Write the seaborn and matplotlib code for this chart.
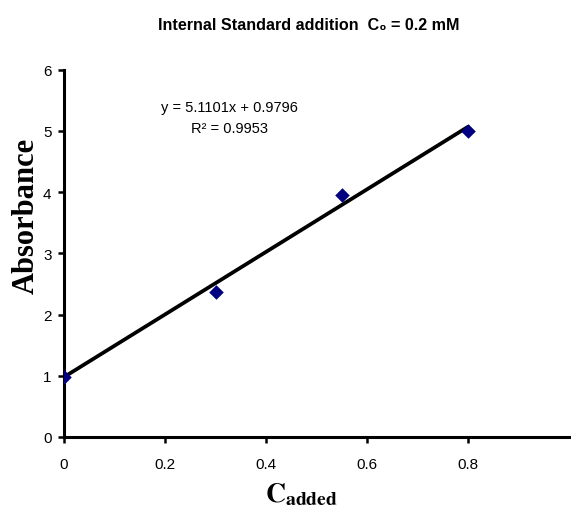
import matplotlib
matplotlib.use("Agg")
import matplotlib.pyplot as plt
from matplotlib import font_manager
import seaborn as sns
import pandas as pd
import numpy as np

# data
c_added = [0.0, 0.30, 0.55, 0.80]
absorbance = [0.98, 2.37, 3.95, 5.00]
fit_slope = 5.1101
fit_intercept = 0.9796
r_squared = 0.9953
x_ticks = [0, 0.2, 0.4, 0.6, 0.8]
x_tick_labels = ["0", "0.2", "0.4", "0.6", "0.8"]
y_ticks = [0, 1, 2, 3, 4, 5, 6]

sns.set_style("ticks")
plt.rcParams['font.family'] = ['Liberation Sans', 'DejaVu Sans']
plt.rcParams['mathtext.fontset'] = 'stix'
for k in ["text.color", "axes.labelcolor", "xtick.color", "ytick.color",
          "axes.edgecolor"]:
    plt.rcParams[k] = "black"

installed = {f.name for f in font_manager.fontManager.ttflist}
if "Liberation Sans Narrow" in installed:
    title_family = ['Liberation Sans Narrow', 'DejaVu Sans']
    title_size = 14
else:
    title_family = ['Liberation Sans', 'DejaVu Sans']
    title_size = 11.6

df = pd.DataFrame({"C": c_added, "A": absorbance})
xl = np.array([min(c_added), max(c_added)])
df_fit = pd.DataFrame({"C": xl, "A": fit_slope * xl + fit_intercept})

fig = plt.figure(figsize=(5.71, 5.10), dpi=100)
ax = fig.add_axes([64/571, 72/510, 505/571, 367.3/510])

sns.lineplot(data=df_fit, x="C", y="A", ax=ax, color="black", linewidth=2.7)
sns.scatterplot(data=df, x="C", y="A", ax=ax, marker="D", s=55,
                color="#000080", edgecolor="#000080", linewidth=0, zorder=5)

ax.set_xlim(0, 1.0)
ax.set_ylim(0, 6)
ax.set_xticks(x_ticks)
ax.set_xticklabels(x_tick_labels)
ax.set_yticks(y_ticks)
for s in ["top", "right"]:
    ax.spines[s].set_visible(False)
ax.spines["left"].set_linewidth(2.2)
ax.spines["bottom"].set_linewidth(2.2)
ax.tick_params(axis="both", direction="out", length=4.5, width=1.8,
               labelsize=11, colors="black")
ax.tick_params(axis="x", pad=10)
ax.tick_params(axis="y", pad=4.5)

ax.set_ylabel("Absorbance", family="Liberation Serif", fontweight="bold",
              fontsize=22)
ax.yaxis.set_label_coords(-0.047, 0.604)
ax.set_xlabel(r"$\mathbf{C}_{\mathbf{added}}$", fontsize=20)
ax.xaxis.set_label_coords(0.47, -0.118)

ax.text(0.327, 0.898, f"y = {fit_slope}x + {fit_intercept}",
        transform=ax.transAxes, ha="center", va="center", fontsize=10.5)
ax.text(0.327, 0.841, f"R² = {r_squared}",
        transform=ax.transAxes, ha="center", va="center", fontsize=10.5)

fig.text(309/571, 1 - 25/510, "Internal Standard addition  C₀ = 0.2 mM",
         ha="center", va="center", fontsize=title_size, fontweight="bold",
         family=title_family)

fig.savefig("out.png", dpi=100, facecolor="white")
